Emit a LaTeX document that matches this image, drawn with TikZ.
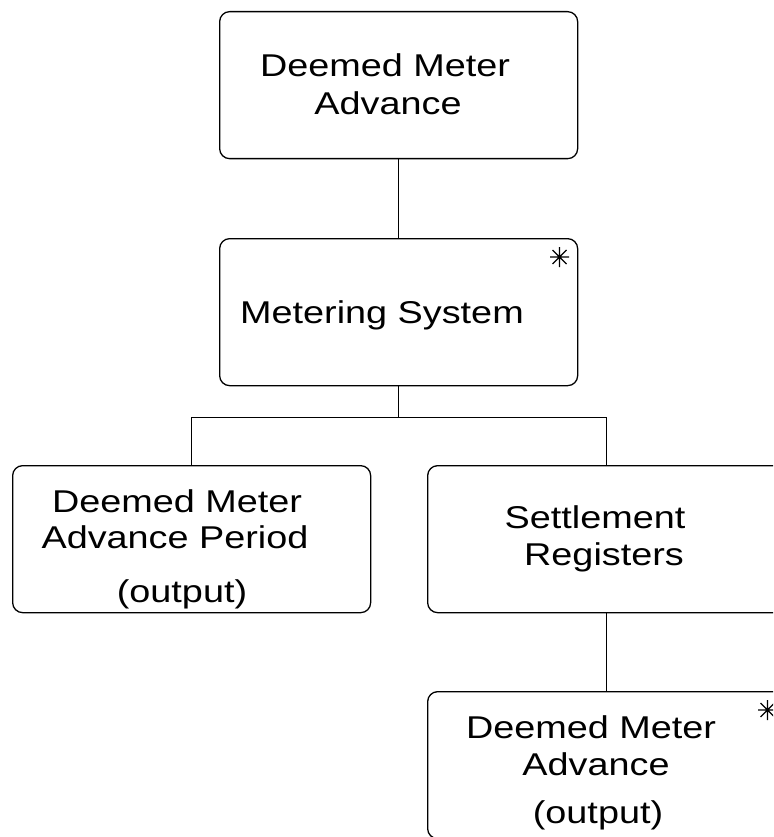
\documentclass[tikz,border=0pt]{standalone}
\usepackage{fontspec}
\setmainfont{Liberation Sans}[FakeStretch=1.2]
\usetikzlibrary{calc}
\begin{document}
\begin{tikzpicture}[x=1pt,y=-1pt,
  entity/.style={draw, line width=1.3pt, rounded corners=10pt, minimum width=358pt,
    minimum height=147pt, anchor=north west, inner sep=0pt},
  lbl/.style={anchor=base, inner sep=0pt, font=\fontsize{31.5}{38}\selectfont},
  link/.style={line width=1.3pt},
  starmark/.pic={\draw[line width=1.1pt] (-9.5,0)--(9.5,0) (0,-10)--(0,10) (-7,-7)--(7,7) (-7,7)--(7,-7);}]
\useasboundingbox (0,0) rectangle (773,837);
\clip (0,0) rectangle (773,837);
% boxes
\node[entity] (dma) at (219,11) {};
\node[entity] (ms) at (219,238) {};
\node[entity] (dmap) at (12,465) {};
\node[entity] (sr) at (427,465) {};
\node[entity] (dmo) at (427,691) {};
% connectors
\draw[link] (dma.south) -- (ms.north);
\coordinate (fork) at ($(ms.south)+(0,31)$);
\draw[link] (ms.south) -- (fork) -| (dmap.north);
\draw[link] (fork) -| (sr.north);
\draw[link] (sr.south) -- (dmo.north);
% labels
\node[lbl] (t1) at (385,77) {Deemed Meter};
\node[lbl] (t2) at (388,115) {Advance};
\node[lbl] (t3) at (382,323) {Metering System};
\node[lbl] (t4) at (177,512) {Deemed Meter};
\node[lbl] (t5) at (175,548) {Advance Period};
\node[lbl] (t6) at (182,602) {(output)};
\node[lbl] (t7) at (595,528) {Settlement};
\node[lbl] (t8) at (604,565) {Registers};
\node[lbl] (t9) at (591,738) {Deemed Meter};
\node[lbl] (t10) at (596,775) {Advance};
\node[lbl] (t11) at (598,823) {(output)};
% multiplicity marks
\pic at (559.5,257) {starmark};
\pic at (767.5,710) {starmark};
\end{tikzpicture}
\end{document}
